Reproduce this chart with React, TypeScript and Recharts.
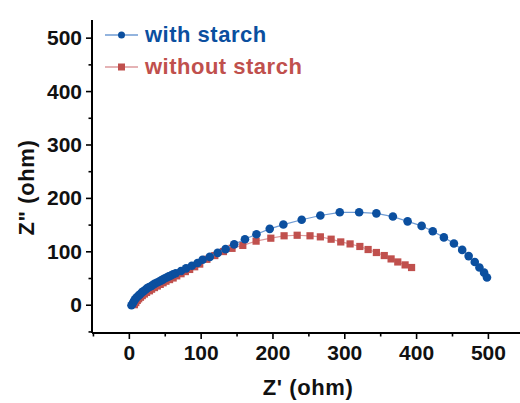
import React from "react";
import { ScatterChart, Scatter, XAxis, YAxis, Legend } from "recharts";

// Nyquist data, Z' (real) vs Z" (imaginary), both in ohm
const withStarchRe = [
  3, 5, 6.5, 8, 10, 12.5, 15, 17, 19.5, 22, 24, 27, 30, 32.5, 35, 38, 41, 44, 46.5, 49, 52, 55, 58, 61, 64.6,
  72, 79, 87, 95, 102, 112, 123, 134, 146, 161, 177, 195.5, 214.5, 240, 266, 293, 320, 344, 367, 387.5, 407,
  422.5, 438, 452, 463.5, 472.5, 481, 487.5, 494, 498,
];
const withStarchIm = [
  0, 4, 8, 11, 14.4, 17.5, 20.6, 23.5, 26, 28.5, 31, 33.5, 35.6, 38, 40, 42, 44, 46, 48, 50, 52, 54, 55.6, 58, 60,
  64, 69, 74, 79, 85, 90.5, 98, 105, 114, 123.6, 133, 143, 151, 160, 168, 174, 174, 172, 166, 157, 148.5,
  138.6, 127, 115.5, 103.6, 92, 81, 70.6, 61, 52,
];
const withoutStarchRe = [
  7, 9, 11, 13, 15.5, 18, 21, 24, 28, 31, 35, 39, 43, 47, 51, 56, 61, 66, 72, 78, 84, 91, 98, 108, 119, 131,
  143, 158, 176.5, 197, 215.5, 233.7, 251.6, 266, 281, 294.4, 307.4, 321, 332.5, 344, 355, 364.5, 373.8, 384, 393,
];
const withoutStarchIm = [
  1, 5, 9, 12, 15, 18, 21, 24, 27, 30, 33, 36, 39, 42, 45, 48, 51, 55, 59, 63, 67, 72, 77, 86, 93, 100.5,
  106.5, 112, 120, 125.5, 130, 131, 130, 128, 123.6, 118.5, 114.8, 110, 104.3, 98.7, 93, 86.7, 81, 75.5, 70.6,
];

const axisTicks = [-50, 0, 50, 100, 150, 200, 250, 300, 350, 400, 450, 500];

const BLUE = "#0b4f9f";
const BLUE_LINE = "#6f9bd3";
const RED = "#c0504d";
const RED_LINE = "#dc9a9c";
const FONT = "'Liberation Sans', Arial, sans-serif";

const withStarch = withStarchRe.map((x, i) => ({ x, y: withStarchIm[i] }));
const withoutStarch = withoutStarchRe.map((x, i) => ({ x, y: withoutStarchIm[i] }));

const Dot = (props: any) => <circle cx={props.cx} cy={props.cy} r={4.3} fill={BLUE} />;
const Square = (props: any) => (
  <rect x={props.cx - 3.6} y={props.cy - 3.6} width={7.2} height={7.2} fill={RED} />
);

const YTick = ({ x, y, payload }: any) => {
  const major = payload.value % 100 === 0;
  return (
    <g>
      <line x1={x} x2={x - (major ? 6 : 3.5)} y1={y} y2={y} stroke="#000" strokeWidth={1.6} />
      {major && (
        <text x={x - 10} y={y} dy={7} textAnchor="end" fontFamily={FONT} fontWeight="bold" fontSize={21} fill="#111">
          {payload.value}
        </text>
      )}
    </g>
  );
};

const XTick = ({ x, y, payload }: any) => {
  const major = payload.value % 100 === 0;
  return (
    <g>
      <line x1={x} x2={x} y1={y} y2={y + (major ? 6 : 3.5)} stroke="#000" strokeWidth={1.6} />
      {major && (
        <text x={x} y={y + 27} textAnchor="middle" fontFamily={FONT} fontWeight="bold" fontSize={21} fill="#111">
          {payload.value}
        </text>
      )}
    </g>
  );
};

const LegendBox = () => {
  const rows = [
    { name: "with starch", color: BLUE, line: BLUE_LINE, square: false },
    { name: "without starch", color: RED, line: RED_LINE, square: true },
  ];
  return (
    <div style={{ fontFamily: FONT, fontWeight: "bold", fontSize: 22, letterSpacing: 0.5, whiteSpace: "nowrap" }}>
      {rows.map((r) => (
        <div key={r.name} style={{ display: "flex", alignItems: "center", height: 32, color: r.color }}>
          <svg width={40} height={12}>
            <line x1={0} x2={33} y1={6} y2={6} stroke={r.line} strokeWidth={1.3} />
            {r.square ? (
              <rect x={13} y={2.5} width={7} height={7} fill={r.color} />
            ) : (
              <circle cx={16.5} cy={6} r={3.5} fill={r.color} />
            )}
          </svg>
          {r.name}
        </div>
      ))}
    </div>
  );
};

export default function App() {
  return (
    <div style={{ position: "absolute", left: 0, top: 0, background: "#fff" }}>
      <ScatterChart width={520} height={403} margin={{ top: 20, right: 0, bottom: 0, left: 0 }}>
        <XAxis
          type="number"
          dataKey="x"
          domain={[-52, 544]}
          ticks={axisTicks}
          interval={0}
          tickSize={0}
          tickMargin={0}
          tickLine={false}
          tick={<XTick />}
          height={70}
          axisLine={{ stroke: "#000", strokeWidth: 2 }}
          allowDataOverflow
          label={{
            content: ({ viewBox }: any) => (
              <text x={viewBox.x + viewBox.width / 2 + 2} y={viewBox.y + 62} textAnchor="middle"
                fontFamily={FONT} fontWeight="bold" fontSize={22} letterSpacing={0.6} fill="#111">
                Z' (ohm)
              </text>
            ),
          }}
        />
        <YAxis
          type="number"
          dataKey="y"
          domain={[-52, 534]}
          ticks={axisTicks}
          interval={0}
          tickSize={0}
          tickMargin={0}
          tickLine={false}
          tick={<YTick />}
          width={92}
          axisLine={{ stroke: "#000", strokeWidth: 2 }}
          allowDataOverflow
          label={{
            content: ({ viewBox }: any) => {
              const cx = viewBox.x + 27;
              const cy = viewBox.y + viewBox.height / 2 + 11;
              return (
                <text x={cx} y={cy} transform={`rotate(-90 ${cx} ${cy})`} dy={7} textAnchor="middle"
                  fontFamily={FONT} fontWeight="bold" fontSize={22} letterSpacing={0.6} fill="#111">
                  Z" (ohm)
                </text>
              );
            },
          }}
        />
        {/* centred/middle so the legend takes no room from the plot; placed by wrapperStyle */}
        <Legend
          layout="vertical"
          verticalAlign="middle"
          align="center"
          content={<LegendBox />}
          wrapperStyle={{ top: 19, left: 105, width: "auto" }}
        />
        <Scatter
          name="without starch"
          data={withoutStarch}
          shape={<Square />}
          line={{ stroke: RED_LINE, strokeWidth: 1.2 }}
          lineType="joint"
          isAnimationActive={false}
        />
        <Scatter
          name="with starch"
          data={withStarch}
          shape={<Dot />}
          line={{ stroke: BLUE_LINE, strokeWidth: 1.2 }}
          lineType="joint"
          isAnimationActive={false}
        />
      </ScatterChart>
    </div>
  );
}
